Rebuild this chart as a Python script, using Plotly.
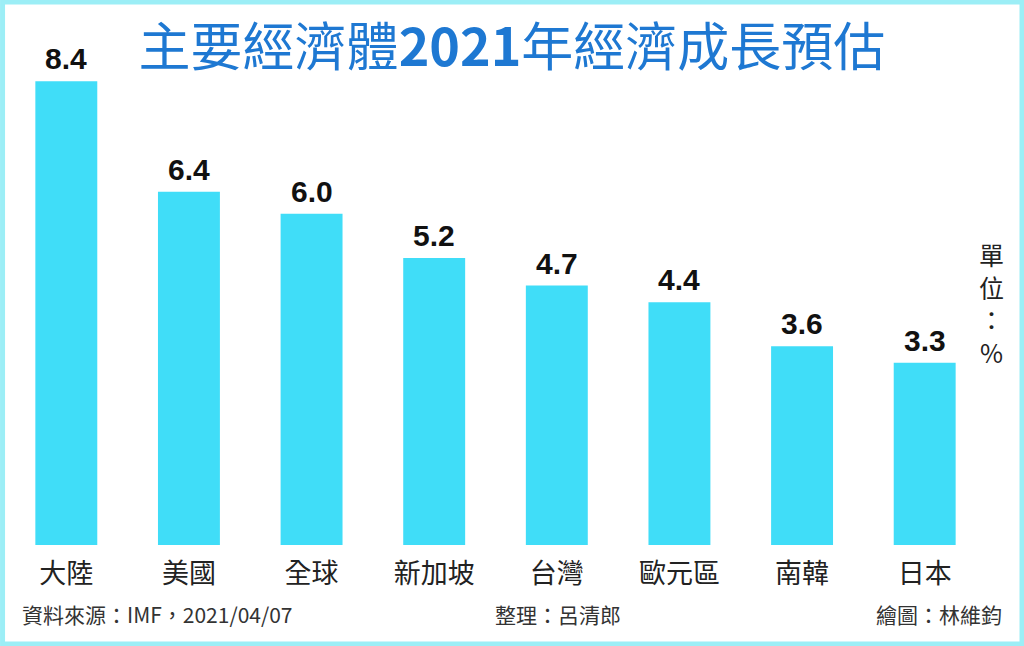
import plotly.graph_objects as go

# data
regions = ['大陸', '美國', '全球', '新加坡', '台灣', '歐元區', '南韓', '日本']
growth = [8.4, 6.4, 6.0, 5.2, 4.7, 4.4, 3.6, 3.3]

title_text = '主要經濟體<b>2021</b>年經濟成長預估'
unit_text = '單<br>位<br>：<br>%'
source_text = '資料來源：IMF，2021/04/07'
editor_text = '整理：呂清郎'
artist_text = '繪圖：林維鈞'

cjk = 'Noto Sans CJK TC'
bar_color = '#40DDF8'

fig = go.Figure()
fig.add_trace(go.Bar(
    x=regions,
    y=growth,
    marker=dict(color=bar_color, line=dict(width=0)),
    hoverinfo='skip',
))

# value labels above the bars
for r, v in zip(regions, growth):
    fig.add_annotation(
        x=r, y=v, text=f'{v:.1f}', showarrow=False,
        xref='x', yref='y', yanchor='bottom', yshift=4,
        font=dict(family='Liberation Sans, Arial', size=30, color='#111111', weight='bold'),
    )

# unit, vertical on the right
fig.add_annotation(
    x=1.006, y=0.47, xref='paper', yref='paper', text=unit_text,
    showarrow=False, xanchor='center', yanchor='middle',
    font=dict(family=cjk, size=25, color='#222222'),
)

# footer
footer_font = dict(family=cjk, size=21, color='#333333')
fig.add_annotation(x=0.0153, y=-0.134, xref='paper', yref='paper', text=source_text,
                   showarrow=False, xanchor='left', yanchor='middle', font=footer_font)
fig.add_annotation(x=0.497, y=-0.134, xref='paper', yref='paper', text=editor_text,
                   showarrow=False, xanchor='left', yanchor='middle', font=footer_font)
fig.add_annotation(x=1.018, y=-0.134, xref='paper', yref='paper', text=artist_text,
                   showarrow=False, xanchor='right', yanchor='middle', font=footer_font)

# light cyan frame around the whole picture
fig.add_shape(type='rect', xref='paper', yref='paper',
              x0=-0.0025, x1=1.0367, y0=-0.192, y1=1.0544,
              line=dict(color='#9CEEF6', width=5), fillcolor='rgba(0,0,0,0)', layer='above')

fig.update_layout(
    width=1024, height=646,
    margin=dict(l=5, r=38, t=30, b=101),
    paper_bgcolor='white', plot_bgcolor='white',
    bargap=0.495,
    showlegend=False,
    title=dict(
        text=title_text, x=0.5, xref='container', xanchor='center',
        y=1 - 48 / 646, yref='container', yanchor='middle',
        font=dict(family=cjk, size=52, color='#1E78D2'),
    ),
    xaxis=dict(
        showgrid=False, showline=False, zeroline=False, ticks='',
        tickfont=dict(family=cjk, size=27, color='#222222'),
        ticklabelstandoff=10,
    ),
    yaxis=dict(
        range=[0, 9.33], visible=False, showgrid=False, zeroline=False,
    ),
)

# drop the page margin so the figure sits at the window corner
fig.write_html('out.html', config={'displayModeBar': False},
               post_script="document.body.style.margin='0';")
